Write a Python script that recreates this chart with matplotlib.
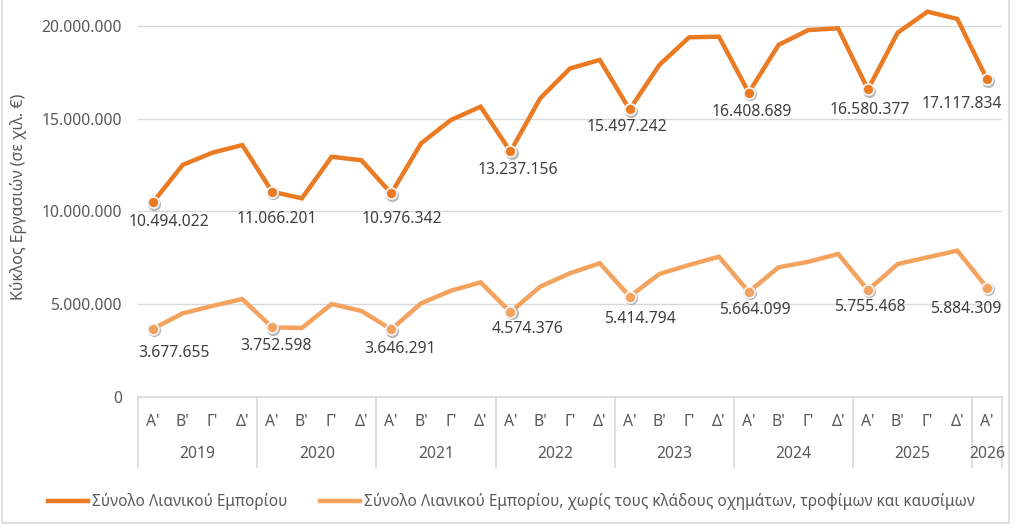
import matplotlib
matplotlib.use("Agg")
import matplotlib.pyplot as plt
from matplotlib.lines import Line2D
from matplotlib.patches import Rectangle
import matplotlib.transforms as mtransforms
from matplotlib.ticker import FuncFormatter

plt.rcParams['font.family'] = ['Noto Sans', 'DejaVu Sans']

years = ['2019', '2020', '2021', '2022', '2023', '2024', '2025', '2026']
quarters = ["Α'", "Β'", "Γ'", "Δ'"]
n_quarters = [4, 4, 4, 4, 4, 4, 4, 1]

total_retail = [
    10494022, 12510000, 13170000, 13580000,
    11066201, 10710000, 12950000, 12760000,
    10976342, 13670000, 14930000, 15650000,
    13237156, 16100000, 17710000, 18170000,
    15497242, 17900000, 19390000, 19420000,
    16408689, 18980000, 19780000, 19870000,
    16580377, 19640000, 20770000, 20380000,
    17117834,
]
retail_excl = [
    3677655, 4510000, 4910000, 5280000,
    3752598, 3720000, 5010000, 4640000,
    3646291, 5050000, 5730000, 6180000,
    4574376, 5950000, 6670000, 7210000,
    5414794, 6630000, 7120000, 7560000,
    5664099, 6990000, 7290000, 7710000,
    5755468, 7170000, 7530000, 7890000,
    5884309,
]
series_names = [
    'Σύνολο Λιανικού Εμπορίου',
    'Σύνολο Λιανικού Εμπορίου, χωρίς τους κλάδους οχημάτων, τροφίμων και καυσίμων',
]
y_title = 'Κύκλος Εργασιών (σε χιλ. €)'

# label offsets in pixels (dx, dy) for Q1 labels
top_offsets = [(16, -20), (5, -27), (11, -26), (7, -19), (-3, -18), (3, -19), (2, -21), (-25, -25)]
bot_offsets = [(21, -24), (4, -19), (9, -20), (17, -17), (10, -22), (6, -18), (2, -17), (-21, -21)]

c_top = '#EB7B23'
c_bot = '#F3A35E'
txt = '#595959'
grid_c = '#D9D9D9'
fs = 11.3

W, H = 1032, 528
fig = plt.figure(figsize=(W / 100, H / 100), dpi=100)
ax = fig.add_axes([138 / W, 1 - 397 / H, (1002 - 138) / W, (397 - 3.7) / H])

# quarter labels
xlabels = []
for y, nq in zip(years, n_quarters):
    xlabels += quarters[:nq]
x = list(range(len(xlabels)))

ax.set_xlim(-0.5, len(x) - 0.5)
ax.set_ylim(0, 21200000)
ax.set_yticks([0, 5000000, 10000000, 15000000, 20000000])
ax.yaxis.set_major_formatter(FuncFormatter(lambda v, p: f"{int(v):,}".replace(',', '.')))
ax.grid(axis='y', color=grid_c, lw=1)
ax.set_axisbelow(True)
for s in ['top', 'right', 'left']:
    ax.spines[s].set_visible(False)
ax.spines['bottom'].set_color(grid_c)
ax.spines['bottom'].set_linewidth(1.2)
ax.tick_params(axis='y', length=0, pad=11.5, labelsize=fs, labelcolor=txt)
ax.set_xticks(x)
ax.set_xticklabels(xlabels)
ax.tick_params(axis='x', length=0, pad=12, labelsize=fs, labelcolor=txt)

ax.set_ylabel(y_title, fontsize=11.5, color=txt)
ax.yaxis.set_label_coords(-0.128, 0.51)

# year labels and separators
trans = mtransforms.blended_transform_factory(ax.transData, ax.transAxes)
sep_len = 69.7 / ((397 - 3.7))
start = 0
bounds = [-0.5]
for y, nq in zip(years, n_quarters):
    centre = start + (nq - 1) / 2
    ax.text(centre, -57 / (397 - 3.7), y, transform=trans, ha='center', va='center',
            fontsize=fs, color=txt)
    start += nq
    bounds.append(start - 0.5)
for b in bounds:
    ax.plot([b, b], [0, -sep_len], transform=trans, color=grid_c, lw=1.2, clip_on=False)

# lines
ax.plot(x, total_retail, color=c_top, lw=3.2, solid_joinstyle='miter', zorder=3)
ax.plot(x, retail_excl, color=c_bot, lw=3.2, solid_joinstyle='miter', zorder=3)

# markers on Q1 points
q1_idx = [i for i, q in enumerate(xlabels) if q == "Α'"]
shadow = mtransforms.offset_copy(ax.transData, fig=fig, x=1.2, y=-1.2, units='dots')
for series, col, offs in [(total_retail, c_top, top_offsets), (retail_excl, c_bot, bot_offsets)]:
    xs = q1_idx
    ys = [series[i] for i in q1_idx]
    ax.plot(xs, ys, 'o', ms=8.5, color='#9a9a9a', alpha=0.6, transform=shadow, zorder=4)
    ax.plot(xs, ys, 'o', ms=8, markerfacecolor=col, markeredgecolor='#f2f2f2', mew=1.3, zorder=5)
    for xi, yi, (dx, dy) in zip(xs, ys, offs):
        ax.annotate(f"{yi:,}".replace(',', '.'), (xi, yi), xytext=(dx, dy),
                    textcoords='offset pixels', ha='center', va='center',
                    fontsize=fs, color='#404040', zorder=6)

# legend (manual)
ly = 1 - 501 / H
for (x0, x1, xt), col, name in [((48, 88, 92), c_top, series_names[0]),
                                ((320, 360, 364), c_bot, series_names[1])]:
    fig.add_artist(Line2D([x0 / W, x1 / W], [ly, ly], color=col, lw=3.2, transform=fig.transFigure))
    fig.text(xt / W, ly, name, ha='left', va='center', fontsize=11.05, color=txt)

# chart frame
fig.add_artist(Rectangle((2 / W, 1 - 523 / H), (1009 - 2) / W, 1.2, transform=fig.transFigure,
                         fill=False, edgecolor=grid_c, lw=1.2))

fig.savefig('out.png', dpi=100, facecolor='white')
